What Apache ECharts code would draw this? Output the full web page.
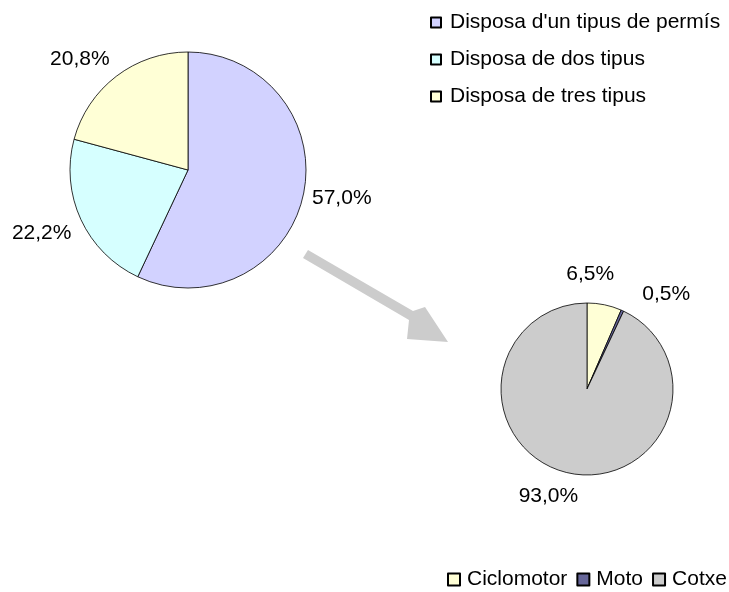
<!DOCTYPE html>
<html>
<head>
<meta charset="utf-8">
<script src="https://cdn.jsdelivr.net/npm/echarts@6/dist/echarts.min.js"></script>
<style>
  html, body { margin: 0; padding: 0; background: #fff; }
  #chart { width: 729px; height: 592px; }
</style>
</head>
<body>
<div id="chart"></div>
<script>
// permisos de conduir
var permisNoms = ["Disposa d'un tipus de permís", 'Disposa de dos tipus', 'Disposa de tres tipus'];
var permisValors = [57.0, 22.2, 20.8];
var permisColors = ['#D2D2FF', '#D6FFFF', '#FFFFD6'];

// tipus de vehicle
var vehicleNoms = ['Ciclomotor', 'Moto', 'Cotxe'];
var vehicleValors = [6.5, 0.5, 93.0];
var vehicleColors = ['#FFFFD6', '#666699', '#CCCCCC'];

var font = 'Liberation Sans, Arial, sans-serif';

// petits ajustos de posicio de les etiquetes (com a l'excel original)
var nudgePermis = [[-2, 1], [1, 11], [2, -12]];
var nudgeVehicle = [[-46, -17], [-12, -20], [18, 10]];

function fmt(p) {
    return p.value.toFixed(1).replace('.', ',') + '%';
}

function toData(noms, valors, colors) {
    return noms.map(function (n, i) {
        return { name: n, value: valors[i], itemStyle: { color: colors[i] } };
    });
}

function nudger(list) {
    return function (p) {
        var d = list[p.dataIndex] || [0, 0];
        return { dx: d[0], dy: d[1] };
    };
}

var chart = echarts.init(document.getElementById('chart'));
var option = {
    animation: false,
    backgroundColor: '#fff',
    textStyle: { fontFamily: font },
    legend: [
        {
            data: permisNoms,
            orient: 'vertical',
            left: 430,
            top: 12,
            padding: 0,
            itemWidth: 10,
            itemHeight: 10,
            itemGap: 16,
            icon: 'rect',
            textStyle: { fontFamily: font, fontSize: 21, color: '#000', padding: [0, 0, 0, 4] }
        },
        {
            data: vehicleNoms,
            orient: 'horizontal',
            left: 447,
            top: 569,
            width: 320,
            padding: 0,
            itemWidth: 12,
            itemHeight: 12,
            itemGap: 9,
            icon: 'rect',
            textStyle: { fontFamily: font, fontSize: 21, color: '#000', padding: [0, 0, 0, 2] }
        }
    ],
    graphic: [
        {
            // fletxa grisa entre els dos pastissos
            type: 'polygon',
            shape: {
                points: [[303, 258], [308, 250], [413, 311], [425, 307], [448, 342], [407, 339], [409, 320]]
            },
            style: { fill: '#CCCCCC' }
        }
    ],
    series: [
        {
            type: 'pie',
            center: [188, 170],
            radius: 118,
            startAngle: 90,
            clockwise: true,
            data: toData(permisNoms, permisValors, permisColors),
            itemStyle: { borderColor: '#000', borderWidth: 0.8 },
            label: {
                show: true,
                position: 'outside',
                formatter: fmt,
                fontFamily: font,
                fontSize: 21,
                color: '#000'
            },
            labelLine: { show: false, length: 6, length2: 0 },
            labelLayout: nudger(nudgePermis),
            emphasis: { disabled: true }
        },
        {
            type: 'pie',
            center: [587, 389],
            radius: 86,
            startAngle: 90,
            clockwise: true,
            data: toData(vehicleNoms, vehicleValors, vehicleColors),
            itemStyle: { borderColor: '#000', borderWidth: 0.8 },
            label: {
                show: true,
                position: 'outside',
                formatter: fmt,
                fontFamily: font,
                fontSize: 21,
                color: '#000'
            },
            labelLine: { show: false, length: 14, length2: 0 },
            labelLayout: nudger(nudgeVehicle),
            emphasis: { disabled: true }
        }
    ]
};
chart.setOption(option);
</script>
</body>
</html>
